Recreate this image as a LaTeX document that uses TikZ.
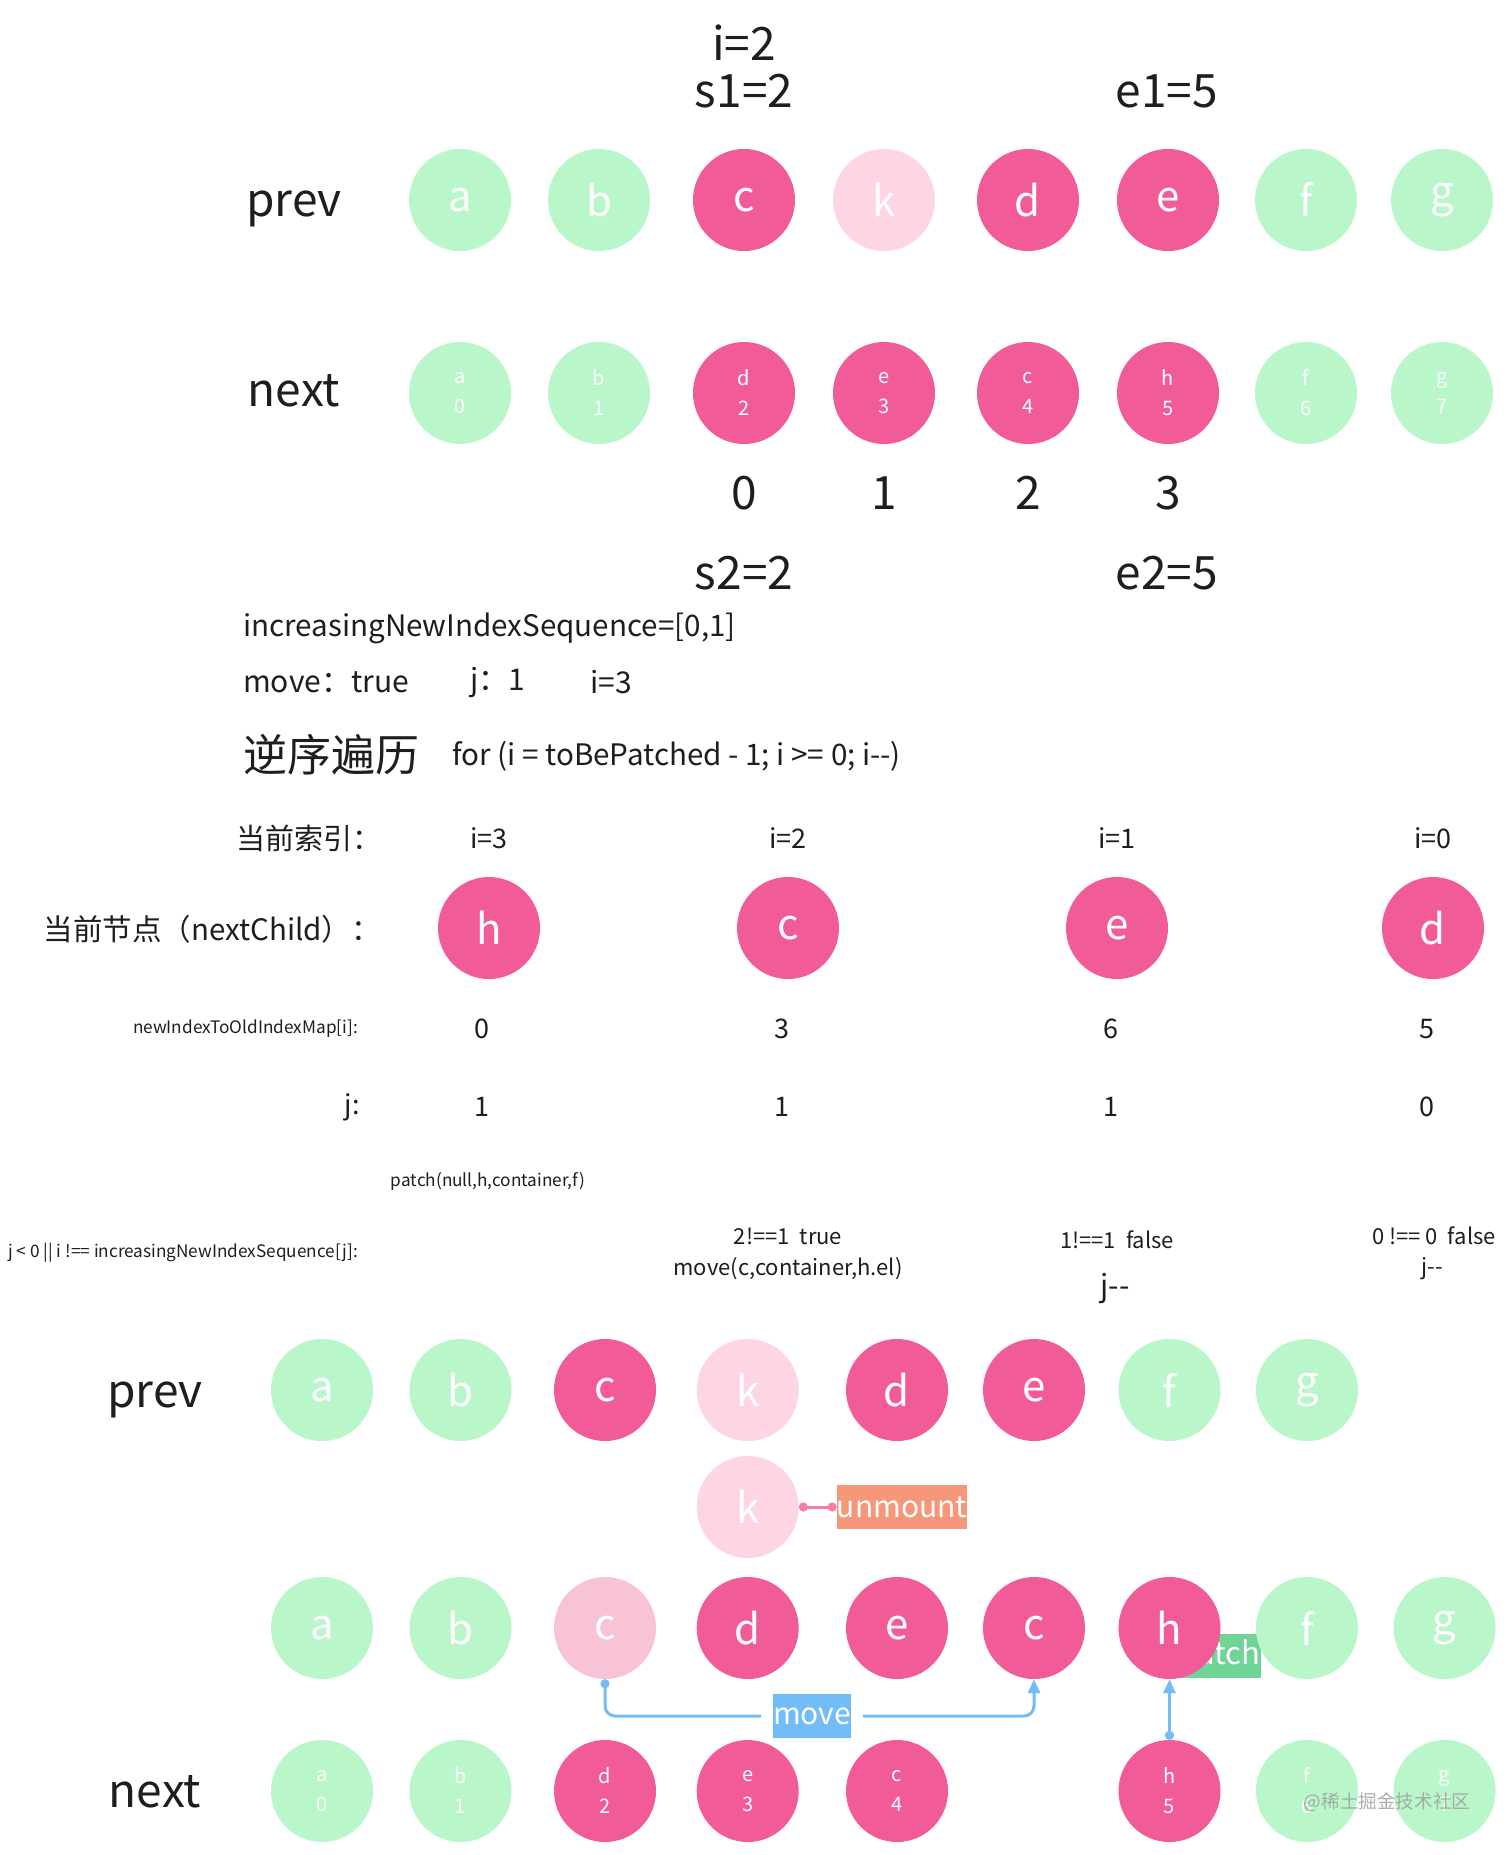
\documentclass[tikz,border=0pt]{standalone}
\usepackage{fontspec}
\setmainfont{Noto Sans CJK SC}
\usetikzlibrary{arrows.meta}
\newcommand{\myfs}[1]{\fontsize{#1}{#1}\selectfont}
\definecolor{pk}{HTML}{F15C98}
\definecolor{kpk}{HTML}{FDD5E5}
\definecolor{cpk}{HTML}{F8C2D7}
\definecolor{grn}{HTML}{B9F6CA}
\definecolor{mvb}{HTML}{72BCF7}
\definecolor{ptg}{HTML}{70D496}
\definecolor{umo}{HTML}{F7977A}
\definecolor{unl}{HTML}{F27FA6}
\definecolor{tx}{HTML}{1E1E1E}
\tikzset{
  nd/.style={circle, inner sep=0pt, minimum size=102pt, text=white, font=\myfs{42}},
  gn/.style={nd, fill=grn},
  pn/.style={nd, fill=pk},
  kn/.style={nd, fill=kpk},
  cn/.style={nd, fill=cpk},
  sm/.style={font=\fontsize{20}{30}\selectfont, align=center},
  txt/.style={text=tx, inner sep=0pt},
  tagbox/.style={rectangle, inner sep=0pt, text=white, font=\myfs{30}, minimum height=44pt},
  bluel/.style={draw=mvb, line width=3pt, rounded corners=10pt},
  pinkl/.style={draw=unl, line width=3pt},
}
\begin{document}
\begin{tikzpicture}[x=1pt,y=-1pt]
\useasboundingbox[fill=white] (0,0) rectangle (1512,1855);

% ---------- top section ----------
\node[txt, font=\myfs{46}] (ti) at (744,43) {i=2};
\node[txt, font=\myfs{46}] (ts1) at (744,91) {s1=2};
\node[txt, font=\myfs{46}] (te1) at (1167,91) {e1=5};
\node[txt, font=\myfs{46}] (tprev) at (294,209) {prev};
\node[txt, font=\myfs{46}] (tnext) at (294,391) {next};

\node[gn] (pa) at (460,200) {a};
\node[gn] (pb) at (599,200) {b};
\node[pn] (pc) at (744,200) {c};
\node[kn] (pk) at (884,200) {k};
\node[pn] (pd) at (1028,200) {d};
\node[pn] (pe) at (1168,200) {e};
\node[gn] (pf) at (1306,200) {f};
\node[gn] (pg) at (1442,200) {g};

\node[gn, sm] (na) at (460,393) {a\\0};
\node[gn, sm] (nb) at (599,393) {b\\1};
\node[pn, sm] (nd) at (744,393) {d\\2};
\node[pn, sm] (ne) at (884,393) {e\\3};
\node[pn, sm] (nc) at (1028,393) {c\\4};
\node[pn, sm] (nh) at (1168,393) {h\\5};
\node[gn, sm] (nf) at (1306,393) {f\\6};
\node[gn, sm] (ng) at (1442,393) {g\\7};

\node[txt, font=\myfs{46}] (n0) at (744,493) {0};
\node[txt, font=\myfs{46}] (n1) at (884,493) {1};
\node[txt, font=\myfs{46}] (n2) at (1028,493) {2};
\node[txt, font=\myfs{46}] (n3) at (1168,493) {3};
\node[txt, font=\myfs{46}] (ts2) at (744,573) {s2=2};
\node[txt, font=\myfs{46}] (te2) at (1167,573) {e2=5};

% ---------- middle text ----------
\node[txt, font=\myfs{29.6}, anchor=west] (seq) at (243,628) {increasingNewIndexSequence=[0,1]};
\node[txt, font=\myfs{30}, anchor=west] (mvt) at (243,682) {move：true};
\node[txt, font=\myfs{30}, anchor=west] (jv) at (470,682) {j：1};
\node[txt, font=\myfs{30}, anchor=west] (iv) at (590,682) {i=3};
\node[txt, font=\myfs{44}, anchor=west] (rev) at (243,755) {逆序遍历};
\node[txt, font=\myfs{29.6}, anchor=west] (forl) at (452,756) {for (i = toBePatched - 1; i >= 0; i-{}-)};

\node[txt, font=\myfs{29}, anchor=east] (cidx) at (382,838) {当前索引：};
\node[txt, font=\myfs{27}] (i3) at (489,838) {i=3};
\node[txt, font=\myfs{27}] (i2) at (788,838) {i=2};
\node[txt, font=\myfs{27}] (i1) at (1117,838) {i=1};
\node[txt, font=\myfs{27}] (i0) at (1433,838) {i=0};

\node[txt, font=\myfs{29.5}, anchor=east] (cnode) at (381,929) {当前节点（nextChild）：};
\node[pn] (mh) at (489,928) {h};
\node[pn] (mc) at (788,928) {c};
\node[pn] (me) at (1117,928) {e};
\node[pn] (md) at (1433,928) {d};

\node[txt, font=\myfs{17.2}, anchor=east] (mapl) at (358,1029) {newIndexToOldIndexMap[i]:};
\node[txt, font=\myfs{27}] (m0) at (482,1029) {0};
\node[txt, font=\myfs{27}] (m3) at (782,1029) {3};
\node[txt, font=\myfs{27}] (m6) at (1111,1029) {6};
\node[txt, font=\myfs{27}] (m5) at (1427,1029) {5};

\node[txt, font=\myfs{27}, anchor=east] (jl) at (360,1107) {j:};
\node[txt, font=\myfs{27}] (j3) at (482,1107) {1};
\node[txt, font=\myfs{27}] (j2) at (782,1107) {1};
\node[txt, font=\myfs{27}] (j1) at (1111,1107) {1};
\node[txt, font=\myfs{27}] (j0) at (1427,1107) {0};

\node[txt, font=\myfs{17.2}] (patchc) at (488,1181) {patch(null,h,container,f)};
\node[txt, font=\myfs{17.2}, anchor=east] (condl) at (358,1253) {j < 0 || i !== increasingNewIndexSequence[j]:};
\node[txt, font=\myfs{22}] (c2a) at (788,1236) {2!==1\ \ true};
\node[txt, font=\myfs{22}] (c2b) at (788,1269) {move(c,container,h.el)};
\node[txt, font=\myfs{22}] (c1a) at (1117,1240) {1!==1\ \ false};
\node[txt, font=\myfs{30}] (c1b) at (1115,1288) {j-{}-};
\node[txt, font=\myfs{22}] (c0a) at (1434,1236) {0 !== 0\ \ false};
\node[txt, font=\myfs{22}] (c0b) at (1432,1269) {j-{}-};

% ---------- bottom section ----------
\node[txt, font=\myfs{46}] (bprev) at (155,1400) {prev};
\node[txt, font=\myfs{46}] (bnext) at (155,1792) {next};

\node[gn] (qa) at (322,1390) {a};
\node[gn] (qb) at (460.5,1390) {b};
\node[pn] (qc) at (605,1390) {c};
\node[kn] (qk) at (747.7,1390) {k};
\node[pn] (qd) at (897,1390) {d};
\node[pn] (qe) at (1034,1390) {e};
\node[gn] (qf) at (1169.5,1390) {f};
\node[gn] (qg) at (1307,1390) {g};

\node[kn] (uk) at (747.7,1507) {k};
\node[tagbox, fill=umo, minimum width=127.5pt] (um) at (902,1507) {unmount};
\draw[pinkl, {Circle[length=9pt]}-{Circle[length=9pt]}] (uk.east) -- (um.west);

\node[tagbox, fill=ptg, text width=89pt, align=right, font=\myfs{31}] (pt) at (1216,1656) {patch};

\node[gn] (ra) at (322,1628) {a};
\node[gn] (rb) at (460.5,1628) {b};
\node[cn] (rc) at (605,1628) {c};
\node[pn] (rd) at (747.7,1628) {d};
\node[pn] (re) at (897,1628) {e};
\node[pn] (rc2) at (1034,1628) {c};
\node[pn] (rh) at (1169.5,1628) {h};
\node[gn] (rf) at (1307,1628) {f};
\node[gn] (rg) at (1444.6,1628) {g};

\node[gn, sm] (sa) at (322,1791) {a\\0};
\node[gn, sm] (sb) at (460.5,1791) {b\\1};
\node[pn, sm] (sd) at (605,1791) {d\\2};
\node[pn, sm] (se) at (747.7,1791) {e\\3};
\node[pn, sm] (sc) at (897,1791) {c\\4};
\node[pn, sm] (sh) at (1169.5,1791) {h\\5};
\node[gn, sm] (sf) at (1307,1791) {f\\6};
\node[gn, sm] (sg) at (1444.6,1791) {g\\7};

\node[tagbox, fill=mvb, minimum width=76pt, outer sep=12pt] (mv) at (812,1716) {move};
\draw[bluel, {Circle[length=9pt]}-] (rc.south) |- (mv.west);
\draw[bluel, -{Triangle[length=14pt,width=12pt]}] (mv.east) -| (rc2.south);
\draw[bluel, {Circle[length=9pt]}-{Triangle[length=14pt,width=12pt]}] (sh.north) -- (rh.south);

\node[text=gray!75, font=\myfs{18.6}, opacity=0.85] (wm) at (1387,1802) {@稀土掘金技术社区};
\end{tikzpicture}
\end{document}
